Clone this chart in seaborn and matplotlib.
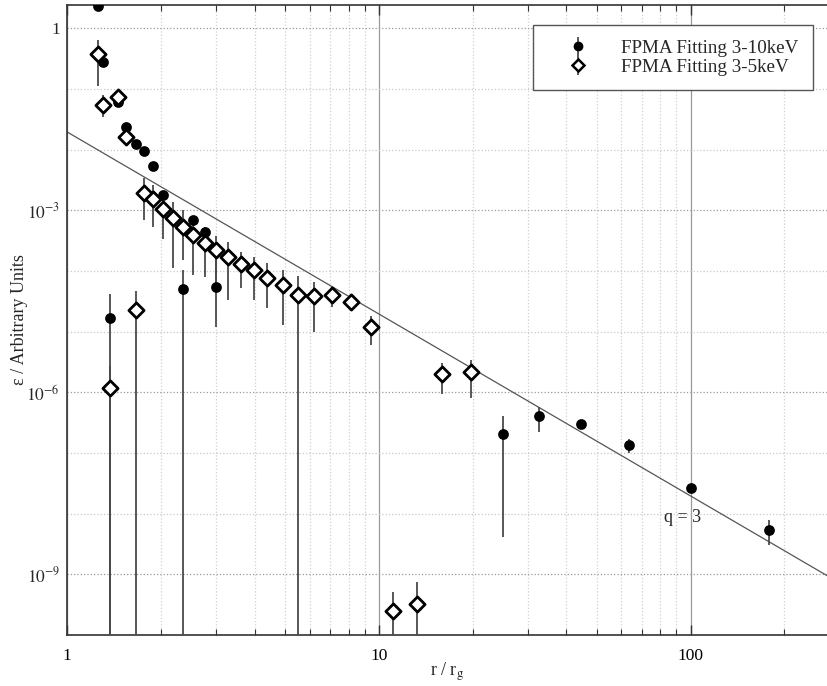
import numpy as np
import pandas as pd
import seaborn as sns
import matplotlib.pyplot as plt
from matplotlib.ticker import FixedLocator, FuncFormatter, NullFormatter, LogLocator
from matplotlib.legend_handler import HandlerTuple
from matplotlib.lines import Line2D

# FPMA fitting 3-10 keV (filled circles)
c_r = [1.26, 1.30, 1.37, 1.46, 1.55, 1.66, 1.77, 1.89, 2.03, 2.35, 2.54, 2.77, 3.01,
       25.0, 32.7, 44.4, 63.7, 100.0, 178.0]
c_eps = [2.3, 0.28, 1.67e-5, 0.060, 0.024, 0.0123, 0.0095, 0.0053, 0.0018, 5.0e-5, 6.8e-4, 4.4e-4, 5.4e-5,
         2.05e-7, 4.0e-7, 3.0e-7, 1.36e-7, 2.6e-8, 5.4e-9]
c_lo = [2.3, 0.28, 1e-12, 0.060, 0.024, 0.0123, 0.0095, 0.0053, 0.0018, 1e-12, 6.8e-4, 4.4e-4, 1.2e-5,
        4.2e-9, 2.26e-7, 2.6e-7, 1.0e-7, 2.2e-8, 3.1e-9]
c_hi = [2.3, 0.28, 4.1e-5, 0.060, 0.024, 0.0123, 0.0095, 0.0053, 0.0018, 1.04e-4, 6.8e-4, 4.4e-4, 1.65e-4,
        4.0e-7, 5.7e-7, 3.4e-7, 1.69e-7, 3.0e-8, 7.8e-9]

# FPMA fitting 3-5 keV (open diamonds)
d_r = [1.26, 1.30, 1.37, 1.46, 1.55, 1.66, 1.77, 1.89, 2.03, 2.18, 2.35, 2.54, 2.77, 3.01,
       3.29, 3.61, 3.98, 4.39, 4.92, 5.52, 6.21, 7.06, 8.13, 9.44, 11.08, 13.23, 15.98, 19.71]
d_eps = [0.377, 0.0545, 1.17e-6, 0.073, 0.016, 2.26e-5, 1.96e-3, 1.52e-3, 1.04e-3, 7.4e-4, 5.4e-4, 3.9e-4,
         2.94e-4, 2.23e-4, 1.69e-4, 1.31e-4, 1.02e-4, 7.8e-5, 5.9e-5, 4.04e-5, 3.89e-5, 4.04e-5, 3.13e-5,
         1.21e-5, 2.45e-10, 3.28e-10, 2.02e-6, 2.15e-6]
d_lo = [0.112, 0.035, 1e-12, 0.073, 0.016, 1e-12, 6.97e-4, 5.37e-4, 3.38e-4, 1.12e-4, 1.52e-4, 8.6e-5,
        8.1e-5, 4.9e-5, 3.34e-5, 5.21e-5, 3.34e-5, 2.47e-5, 1.29e-5, 1e-12, 1.0e-5, 2.53e-5, 3.13e-5,
        6.07e-6, 1e-12, 1e-12, 9.33e-7, 8.0e-7]
d_hi = [0.644, 0.08, 2.73e-6, 0.073, 0.016, 4.75e-5, 3.42e-3, 2.63e-3, 1.78e-3, 1.39e-3, 1.02e-3, 7.5e-4,
        5.4e-4, 3.8e-4, 3.05e-4, 2.09e-4, 1.73e-4, 1.36e-4, 1.02e-4, 8.3e-5, 6.69e-5, 5.53e-5, 3.13e-5,
        1.84e-5, 5.1e-10, 7.46e-10, 3.1e-6, 3.43e-6]

# power-law emissivity line, eps = norm * r^-q
q_index = 3
q_norm = 0.0196

labels = ['FPMA Fitting 3-10keV', 'FPMA Fitting 3-5keV']

sns.set_theme(style="ticks")
plt.rcParams['font.family'] = ['Liberation Serif', 'DejaVu Serif']
plt.rcParams['mathtext.fontset'] = 'stix'

fig = plt.figure(figsize=(8.28, 6.86), dpi=100)
ax = fig.add_axes([67 / 828, 51 / 686, 761 / 828, 630 / 686])
ax.set_xscale('log')
ax.set_yscale('log')

circ = pd.DataFrame({'r': c_r, 'eps': c_eps, 'lo': c_lo, 'hi': c_hi})
diam = pd.DataFrame({'r': d_r, 'eps': d_eps, 'lo': d_lo, 'hi': d_hi})

eb_c = ax.errorbar(circ['r'], circ['eps'], yerr=[circ['eps'] - circ['lo'], circ['hi'] - circ['eps']],
                   fmt='none', ecolor='#4a4a4a', elinewidth=1.3, capsize=0, zorder=3)
eb_d = ax.errorbar(diam['r'], diam['eps'], yerr=[diam['eps'] - diam['lo'], diam['hi'] - diam['eps']],
                   fmt='none', ecolor='#4a4a4a', elinewidth=1.3, capsize=0, zorder=3)

rr = np.array([1.0, 300.0])
ax.plot(rr, q_norm * rr ** (-q_index), color='#555555', lw=0.9, zorder=2)

sns.scatterplot(data=circ, x='r', y='eps', ax=ax, marker='o', s=60, color='black',
                edgecolor='black', linewidth=0, zorder=5, legend=False)
sns.scatterplot(data=diam, x='r', y='eps', ax=ax, marker='D', s=60, color='white',
                edgecolor='black', linewidth=2, zorder=5, legend=False)

ax.set_xlim(1, 276)
ax.set_ylim(1e-10, 2.42)

# ticks
ax.xaxis.set_major_locator(FixedLocator([1, 10, 100]))
ax.xaxis.set_major_formatter(FuncFormatter(lambda v, p: '%d' % round(v)))
ax.xaxis.set_minor_locator(LogLocator(base=10, subs=np.arange(2, 10)))
ax.xaxis.set_minor_formatter(NullFormatter())
ax.yaxis.set_major_locator(FixedLocator([10.0 ** k for k in range(-9, 1, 3)]))
ax.yaxis.set_minor_locator(FixedLocator([10.0 ** k for k in range(-10, 1) if k % 3 != 0]))
ax.yaxis.set_minor_formatter(NullFormatter())


def yfmt(v, p):
    k = int(round(np.log10(v)))
    if k == 0:
        return '1'
    return '$10^{%d}$' % k


ax.yaxis.set_major_formatter(FuncFormatter(yfmt))
ax.tick_params(axis='x', which='both', direction='in', top=True, bottom=True,
               color='#333333', labelsize=12.5, labelcolor='black')
ax.tick_params(axis='x', which='major', length=7, width=1, pad=9)
ax.tick_params(axis='x', which='minor', length=4, width=0.8)
ax.tick_params(axis='y', which='both', length=0, left=False, right=False, labelsize=12.5, pad=5)

# grid
ax.grid(axis='y', which='major', color='#999999', linestyle=':', linewidth=0.9)
ax.grid(axis='y', which='minor', color='#c8c8c8', linestyle=':', linewidth=0.9)
ax.grid(axis='x', which='major', color='#999999', linestyle='-', linewidth=0.9)
ax.grid(axis='x', which='minor', color='#d0d0d0', linestyle=':', linewidth=0.9)
ax.set_axisbelow(True)

for side in ['left', 'bottom', 'top']:
    ax.spines[side].set_color('#333333')
    ax.spines[side].set_linewidth(1.2)
ax.spines['right'].set_visible(False)

ax.set_xlabel('r / r$_\\mathrm{g}$', fontsize=13, labelpad=-2)
ax.set_ylabel('ε / Arbitrary Units', fontsize=13, labelpad=-1)

ax.text(94, 8.5e-9, 'q = 3', fontsize=13, ha='center', va='center')

h_c = (eb_c, Line2D([], [], marker='o', color='black', linestyle='none', markersize=6))
h_d = (eb_d, Line2D([], [], marker='D', markerfacecolor='white', markeredgecolor='black',
                    markeredgewidth=1.8, linestyle='none', markersize=6))
leg = ax.legend([h_c, h_d], labels,
                handler_map={tuple: HandlerTuple(ndivide=1)},
                loc='upper right', bbox_to_anchor=(0.98, 0.968), borderaxespad=0,
                fontsize=13.7, fancybox=False, framealpha=1, edgecolor='#555555',
                handlelength=3.3, handletextpad=0.6, borderpad=0.75, labelspacing=0.1)
leg.get_frame().set_linewidth(1.0)

fig.savefig('out.png', dpi=100)
plt.close(fig)
